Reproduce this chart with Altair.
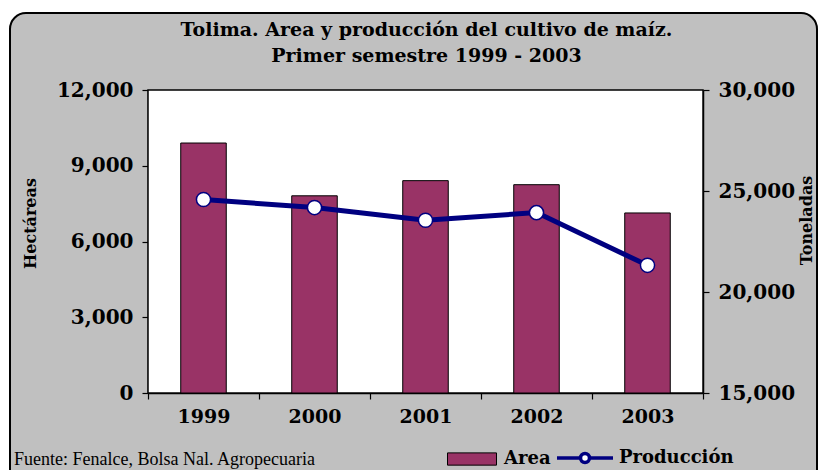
import altair as alt
import pandas as pd

years = ["1999", "2000", "2001", "2002", "2003"]
area = [9900, 7810, 8410, 8250, 7130]
produccion = [24580, 24180, 23550, 23930, 21320]
left_ticks = [0, 3000, 6000, 9000, 12000]
right_ticks = [15000, 20000, 25000, 30000]
title_lines = ["Tolima. Area y producción del cultivo de maíz.", "Primer semestre 1999 - 2003"]
source = "Fuente: Fenalce, Bolsa Nal. Agropecuaria"

df = pd.DataFrame({"year": years, "area": area, "prod": produccion})

W, H = 555, 303
SERIF = "DejaVu Serif"
one = alt.Data(values=[{"k": 1}])

# white outside the rounded frame, then the black frame (stroke only)
outer = alt.Chart(one).mark_rect(
    fill=None, stroke="white", strokeWidth=14, cornerRadius=23
).encode(x=alt.value(-145), x2=alt.value(676), y=alt.value(-84), y2=alt.value(427))

frame = alt.Chart(one).mark_rect(
    fill=None, stroke="black", strokeWidth=2, cornerRadius=16
).encode(x=alt.value(-138), x2=alt.value(669), y=alt.value(-77), y2=alt.value(420))

plot_bg = alt.Chart(one).mark_rect(
    fill="white", stroke="black", strokeWidth=1.5
).encode(x=alt.value(0), x2=alt.value(W), y=alt.value(0), y2=alt.value(H))

def text_layer(txt, x, y, **kw):
    return alt.Chart(alt.Data(values=[{"t": txt}])).mark_text(color="black", **kw).encode(
        x=alt.value(x), y=alt.value(y), text="t:N")

title1 = text_layer(title_lines[0], W / 2 + 1, -54, font=SERIF, fontSize=19, fontWeight="bold",
                    align="center", baseline="alphabetic")
title2 = text_layer(title_lines[1], W / 2 + 1, -28, font=SERIF, fontSize=19, fontWeight="bold",
                    align="center", baseline="alphabetic")
foot = text_layer(source, -134, 375, font="Liberation Serif", fontSize=18,
                  align="left", baseline="alphabetic")

xenc = alt.X(
    "year:N",
    sort=years,
    scale=alt.Scale(paddingInner=0, paddingOuter=0),
    axis=alt.Axis(title=None, labelAngle=0, tickBand="extent", labelPadding=8,
                  labelFontSize=19, tickSize=6, domain=True),
)

bars = alt.Chart(df).mark_bar(
    width=alt.RelativeBandSize(0.41), stroke="black", strokeWidth=1
).encode(
    x=xenc,
    y=alt.Y("area:Q", scale=alt.Scale(domain=[0, 12000], nice=False),
            axis=alt.Axis(orient="left", values=left_ticks, format=",d", title="Hectáreas",
                          titleAngle=270, titleX=-118, titleY=133, titleBaseline="middle",
                          titleAlign="center", labelPadding=9)),
    fill=alt.Fill("lbl:N", scale=alt.Scale(domain=["Area"], range=["#993366"]),
                  legend=alt.Legend(title=None, orient="none", legendX=299, legendY=344,
                                    symbolType="M-1,-0.25H1V0.25H-1Z", symbolSize=2401,
                                    symbolStrokeColor="black", symbolStrokeWidth=1,
                                    symbolOpacity=1, labelOffset=7)),
).transform_calculate(lbl="'Area'")

yprod = alt.Y("prod:Q", scale=alt.Scale(domain=[15000, 30000], nice=False),
              axis=alt.Axis(orient="right", values=right_ticks, format=",d", title="Toneladas",
                            titleAngle=270, titleX=103, titleY=130, titleBaseline="middle",
                            titleAlign="center", labelPadding=9))

line = alt.Chart(df).mark_line(strokeWidth=5).encode(
    x=xenc,
    y=yprod,
    stroke=alt.Stroke("lbl:N", scale=alt.Scale(domain=["Producción"], range=["#000080"]),
                      legend=alt.Legend(title=None, orient="none", legendX=407, legendY=338,
                                        symbolType="M-1,0H-0.16M0.16,0H1M-0.16,0A0.16,0.16,0,1,0,0.16,0A0.16,0.16,0,1,0,-0.16,0Z",
                                        symbolSize=3136, symbolFillColor="white",
                                        symbolStrokeWidth=3.5, labelOffset=4)),
).transform_calculate(lbl="'Producción'")

points = alt.Chart(df).mark_point(
    shape="circle", filled=True, fill="white", stroke="#000080", strokeWidth=1.5, size=200, opacity=1
).encode(x=xenc, y=yprod)

prod_layer = alt.layer(line, points)

chart = alt.layer(outer, frame, plot_bg, bars, prod_layer, title1, title2, foot).resolve_scale(
    y="independent"
).properties(
    width=W, height=H,
    autosize=alt.AutoSizeParams(type="none"),
    padding={"left": 140, "top": 82, "right": 116, "bottom": 77},
    background="#C0C0C0",
).configure_view(stroke=None).configure_axis(
    labelFont=SERIF, labelFontWeight="bold", labelFontSize=20, labelColor="black",
    titleFont=SERIF, titleFontWeight="bold", titleFontSize=16, titleColor="black",
    domainColor="black", domainWidth=1.5, tickColor="black", tickWidth=1.2, tickSize=6,
    grid=False, zindex=1,
).configure_legend(
    labelFont=SERIF, labelFontWeight="bold", labelFontSize=18, labelColor="black",
)

chart.save("out.html", embed_options={"renderer": "svg", "actions": False})
